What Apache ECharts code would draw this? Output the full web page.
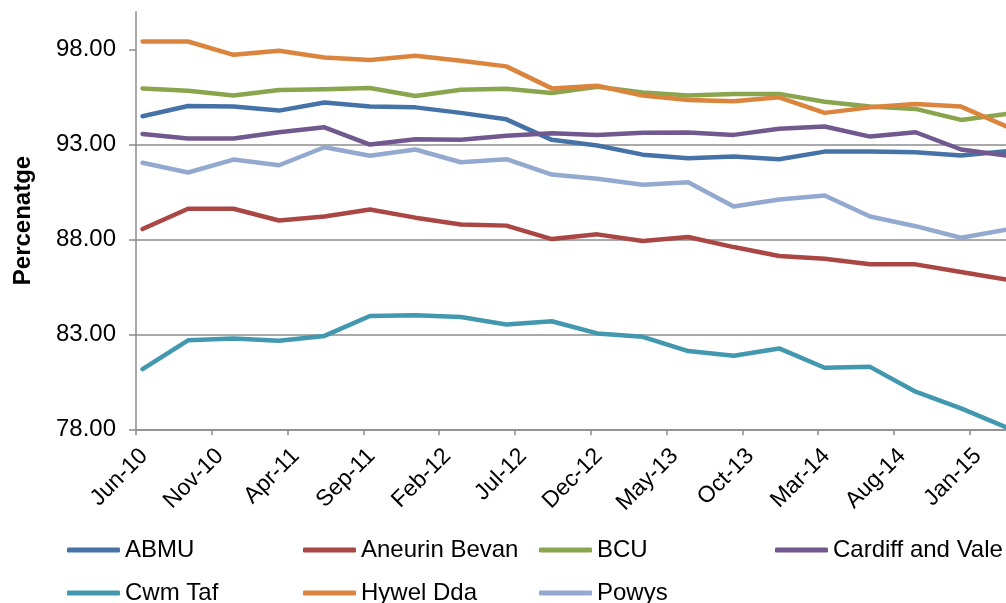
<!DOCTYPE html>
<html>
<head>
<meta charset="utf-8">
<script src="https://cdn.jsdelivr.net/npm/echarts@6/dist/echarts.min.js"></script>
<style>
html,body{margin:0;padding:0;background:#fff;}
#chart{width:1006px;height:603px;}
</style>
</head>
<body>
<div id="chart"></div>
<script>
// Quarterly observation dates
const dates = ['2010-06-14','2010-09-14','2010-12-14','2011-03-14','2011-06-14','2011-09-14','2011-12-14','2012-03-14','2012-06-14','2012-09-14',
               '2012-12-14','2013-03-14','2013-06-14','2013-09-14','2013-12-14','2014-03-14','2014-06-14','2014-09-14','2014-12-14','2015-03-14'];

const ABMU          = [94.49,95.03,95.00,94.79,95.22,95.00,94.96,94.67,94.33,93.25,92.95,92.47,92.28,92.37,92.23,92.63,92.63,92.60,92.42,92.65];
const AneurinBevan  = [88.55,89.62,89.62,89.00,89.21,89.58,89.15,88.79,88.73,88.02,88.27,87.92,88.13,87.60,87.13,86.99,86.69,86.69,86.29,85.89];
const BCU           = [95.96,95.84,95.58,95.88,95.91,95.98,95.56,95.89,95.94,95.72,96.05,95.75,95.58,95.67,95.67,95.26,95.00,94.88,94.30,94.61];
const CardiffVale   = [93.56,93.32,93.32,93.65,93.91,93.00,93.28,93.25,93.47,93.60,93.51,93.62,93.63,93.51,93.83,93.95,93.42,93.65,92.74,92.42];
const CwmTaf        = [81.17,82.69,82.78,82.66,82.92,83.97,84.01,83.92,83.52,83.69,83.05,82.87,82.12,81.87,82.26,81.24,81.29,79.98,79.10,78.10];
const HywelDda      = [98.43,98.43,97.73,97.94,97.59,97.45,97.68,97.42,97.12,95.96,96.10,95.58,95.35,95.28,95.49,94.67,94.96,95.14,95.00,93.95];
const Powys         = [92.04,91.53,92.21,91.91,92.86,92.41,92.74,92.07,92.23,91.42,91.20,90.88,91.02,89.74,90.11,90.32,89.21,88.70,88.09,88.52];

const seriesNames = ['ABMU','Aneurin Bevan','BCU','Cardiff and Vale','Cwm Taf','Hywel Dda','Powys'];
const seriesValues = [ABMU, AneurinBevan, BCU, CardiffVale, CwmTaf, HywelDda, Powys];
const colors = ['#4572A7','#AA4643','#89A54E','#71588F','#4198AF','#DB843D','#93A9CF'];

// X tick labels every 5 months starting Jun-10
const xTickLabels = ['Jun-10','Nov-10','Apr-11','Sep-11','Feb-12','Jul-12','Dec-12','May-13','Oct-13','Mar-14','Aug-14','Jan-15'];
const yTicks = [78, 83, 88, 93, 98];

function monthPos(d) {
  const p = d.split('-').map(Number);
  return (p[0] - 2010) * 12 + (p[1] - 6) + (p[2] - 1) / 30;
}
const xTickValues = xTickLabels.map((_, i) => i * 5);

const chart = echarts.init(document.getElementById('chart'), null, {renderer: 'canvas'});
const FONT = 'Liberation Sans, Arial, sans-serif';

chart.setOption({
  animation: false,
  color: colors,
  grid: {left: 136, right: 0, top: 11.7, bottom: 173.7, containLabel: false},
  xAxis: {
    type: 'value',
    min: 0, max: 57.4, interval: 5,
    axisLine: {show: true, lineStyle: {color: '#8c8c8c', width: 1.5}},
    axisTick: {show: true, length: 6, lineStyle: {color: '#8c8c8c', width: 1.5}, customValues: xTickValues},
    splitLine: {show: false},
    axisLabel: {
      customValues: xTickValues,
      rotate: 45, margin: 15, fontSize: 23, color: '#000', fontFamily: FONT,
      verticalAlign: 'top',
      formatter: v => { const i = Math.round(v / 5); return (Math.abs(v - i*5) < 1e-6 && xTickLabels[i]) ? xTickLabels[i] : ''; }
    }
  },
  yAxis: {
    type: 'value',
    min: 78, max: 100, interval: 5,
    name: 'Percenatge', nameLocation: 'middle', nameGap: 101,
    nameTextStyle: {fontSize: 24, fontWeight: 'bold', color: '#000', fontFamily: FONT},
    axisLine: {show: true, lineStyle: {color: '#8c8c8c', width: 1.5}},
    axisTick: {show: true, length: 7, lineStyle: {color: '#8c8c8c', width: 1.5}, customValues: yTicks},
    splitLine: {show: true, showMaxLine: false, lineStyle: {color: '#8c8c8c', width: 1.5}},
    axisLabel: {
      customValues: yTicks,
      margin: 20, fontSize: 24, color: '#000', fontFamily: FONT,
      formatter: v => yTicks.indexOf(v) >= 0 ? v.toFixed(2) : ''
    }
  },
  legend: {
    left: 62, top: 523.5, width: 950,
    itemWidth: 53, itemHeight: 5, itemGap: 0,
    icon: 'roundRect',
    data: seriesNames,
    textStyle: {fontSize: 24, color: '#000', fontFamily: FONT, width: 178, lineHeight: 43, overflow: 'none'}
  },
  series: seriesNames.map((name, s) => ({
    name: name,
    type: 'line',
    symbol: 'none',
    clip: true,
    lineStyle: {width: 4.5, cap: 'round', join: 'round'},
    data: dates.map((d, i) => [monthPos(d), seriesValues[s][i]])
  }))
});
</script>
</body>
</html>
